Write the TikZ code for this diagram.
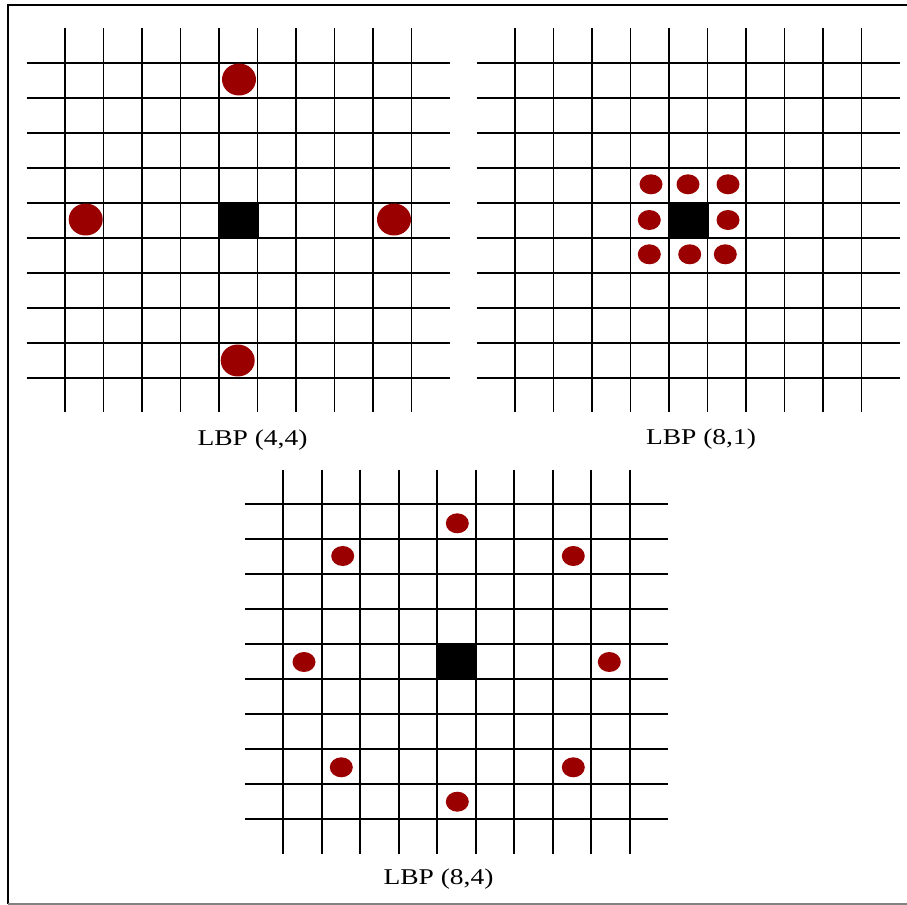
\documentclass[tikz,border=0pt]{standalone}
\usepackage{fontspec}
\newfontfamily\lblfont[FakeStretch=1.22]{Liberation Serif}
\definecolor{dotred}{RGB}{155,0,0}
\definecolor{framegray}{RGB}{130,130,130}
\tikzset{
  gridline/.style={line width=1.9pt*0.75, black},
  centre/.style={fill=black},
  bigdot/.style={fill=dotred},
  lbl/.style={font=\lblfont\fontsize{16.9pt}{18pt}\selectfont, inner sep=0pt, anchor=center},
}
\newcommand\lbpgrid{%
  \foreach \i in {0,...,9} \draw[gridline] (65+38.5*\i,28.3) -- (65+38.5*\i,412.3);
  \foreach \j in {0,...,9} \draw[gridline] (26.7,62.7+35*\j) -- (450,62.7+35*\j);
  \fill[centre] (219,202.3) rectangle (259,238);
}
\begin{document}
\begin{tikzpicture}[x=0.75pt,y=-0.75pt]
\useasboundingbox (0,0) rectangle (907,905);
\fill[white] (0,0) rectangle (907,905);
% frame
\draw[line width=2pt*0.75] (907,5.5) -- (8,5.5) -- (8,904);
\draw[line width=2pt*0.75, framegray] (8,904) -- (907,904);
% grid 1: LBP (4,4)
\begin{scope}
  \lbpgrid
  \foreach \p in {(239,79.5),(85.7,219.5),(394,219.5),(237.7,360.5)}
    \fill[bigdot] \p ellipse [x radius=17, y radius=16];
\end{scope}
\node[lbl] (l1) at (252.5,440) {LBP (4,4)};
% grid 2: LBP (8,1)
\begin{scope}[shift={(450,0)}]
  \lbpgrid
  \foreach \p in {(201,184.3),(238,184.3),(278,184.3),(199.3,220),(278,220),(199.3,254.3),(239.7,254.3),(275.3,254.3)}
    \fill[bigdot] \p ellipse [x radius=11.5, y radius=10];
\end{scope}
\node[lbl] (l2) at (701,439.5) {LBP (8,1)};
% grid 3: LBP (8,4)
\begin{scope}[shift={(218.3,441.3)}]
  \lbpgrid
  \foreach \p in {(239,82),(124.4,114.7),(355,114.7),(85.7,220.7),(391,220.7),(123,326),(355,326),(239,360.4)}
    \fill[bigdot] \p ellipse [x radius=11.5, y radius=10];
\end{scope}
\node[lbl] (l3) at (438.5,879) {LBP (8,4)};
\end{tikzpicture}
\end{document}
